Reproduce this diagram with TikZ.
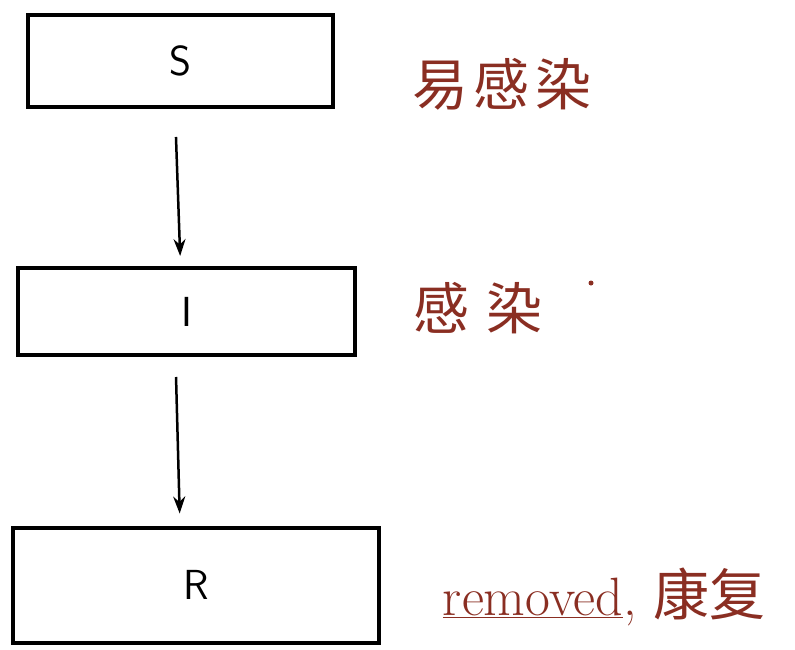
\documentclass[tikz,border=0pt]{standalone}
\usepackage{fontspec}
\newfontfamily\cjk{Noto Sans CJK SC}
\usetikzlibrary{arrows.meta}
\definecolor{ink}{HTML}{8A2E22}
\begin{document}
\begin{tikzpicture}[x=1pt,y=-1pt,
  box/.style={draw=black, line width=4pt, inner sep=0pt},
  letter/.style={font=\fontsize{42}{48}\selectfont\sffamily},
  flow/.style={line width=2.5pt, -{Stealth[length=17pt,width=12pt]}},
  note/.style={text=ink, inner sep=0pt, anchor=center}]
\useasboundingbox[fill=white] (0,0) rectangle (795,649);
\node[box, letter, minimum width=305pt, minimum height=92pt] (S) at (180.5,61) {S};
\node[box, letter, minimum width=337pt, minimum height=87pt] (I) at (186.5,311.5) {I};
\node[box, letter, minimum width=366pt, minimum height=115pt] (R) at (196,585) {R};
\draw[flow, shorten <=28pt, shorten >=10pt] ([xshift=-5.5pt]S.south) -- ([xshift=-6pt]I.north);
\draw[flow, shorten <=20pt, shorten >=12pt] ([xshift=-11pt]I.south) -- ([xshift=-16pt]R.north);
\node[note] (lS) at (502,84) {\fontsize{56}{60}\selectfont\cjk 易\hspace{6pt}感\hspace{6pt}染};
\node[note] (lI) at (478,308) {\fontsize{56}{60}\selectfont\cjk 感\hspace{18pt}染};
\fill[ink] (591,283) circle (2.5pt);
\node[note] (lR) at (604,597) {\fontsize{54}{58}\selectfont\underline{removed}, {\fontsize{56}{60}\selectfont\cjk 康复}};
\end{tikzpicture}
\end{document}
